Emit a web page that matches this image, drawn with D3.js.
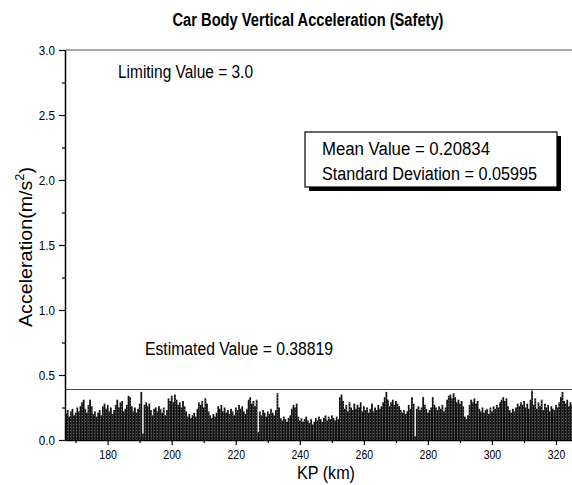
<!DOCTYPE html>
<html>
<head>
<meta charset="utf-8">
<script src="https://cdn.jsdelivr.net/npm/d3@7/dist/d3.min.js"></script>
<style>
  html, body { margin: 0; padding: 0; background: #fff; }
  svg { display: block; font-family: "Liberation Sans", Arial, sans-serif; }
</style>
</head>
<body>
<svg id="chart" width="572" height="485"></svg>
<script>
// ---- data ----
const titleText = "Car Body Vertical Acceleration (Safety)";
const kpStart = 167, kpStep = 0.5;
const acceleration = [
  0.20, 0.23, 0.18, 0.22, 0.24, 0.19, 0.21, 0.25, 0.22, 0.26,
  0.29, 0.31, 0.24, 0.21, 0.27, 0.31, 0.26, 0.20, 0.22, 0.18,
  0.21, 0.23, 0.19, 0.26, 0.28, 0.24, 0.27, 0.22, 0.25, 0.20,
  0.23, 0.27, 0.31, 0.25, 0.29, 0.30, 0.22, 0.24, 0.27, 0.34,
  0.33, 0.26, 0.22, 0.25, 0.21, 0.24, 0.28, 0.37, 0.05, 0.27,
  0.29, 0.26, 0.28, 0.23, 0.19, 0.24, 0.25, 0.22, 0.26, 0.24,
  0.21, 0.25, 0.19, 0.23, 0.32, 0.30, 0.34, 0.29, 0.35, 0.31,
  0.27, 0.29, 0.25, 0.30, 0.26, 0.22, 0.18, 0.20, 0.17, 0.19,
  0.21, 0.18, 0.24, 0.29, 0.27, 0.30, 0.25, 0.32, 0.28, 0.22,
  0.19, 0.17, 0.20, 0.18, 0.21, 0.26, 0.24, 0.27, 0.22, 0.25,
  0.21, 0.23, 0.20, 0.24, 0.22, 0.19, 0.25, 0.23, 0.27, 0.24,
  0.26, 0.22, 0.20, 0.24, 0.31, 0.33, 0.28, 0.30, 0.26, 0.31,
  0.06, 0.22, 0.19, 0.23, 0.21, 0.18, 0.22, 0.20, 0.24, 0.21,
  0.19, 0.23, 0.36, 0.25, 0.17, 0.15, 0.18, 0.16, 0.14, 0.17,
  0.19, 0.24, 0.27, 0.25, 0.28, 0.18, 0.15, 0.17, 0.14, 0.16,
  0.18, 0.15, 0.13, 0.16, 0.12, 0.14, 0.17, 0.15, 0.18, 0.16,
  0.14, 0.17, 0.19, 0.15, 0.18, 0.16, 0.19, 0.17, 0.15, 0.18,
  0.16, 0.33, 0.35, 0.30, 0.24, 0.27, 0.22, 0.29, 0.25, 0.23,
  0.28, 0.24, 0.27, 0.25, 0.29, 0.22, 0.26, 0.23, 0.25, 0.21,
  0.24, 0.28, 0.22, 0.25, 0.23, 0.27, 0.24, 0.26, 0.29, 0.33,
  0.37, 0.31, 0.26, 0.29, 0.31, 0.27, 0.30, 0.28, 0.26, 0.23,
  0.21, 0.23, 0.20, 0.22, 0.27, 0.24, 0.33, 0.28, 0.03, 0.24,
  0.26, 0.23, 0.25, 0.33, 0.27, 0.24, 0.21, 0.23, 0.25, 0.33,
  0.27, 0.25, 0.23, 0.26, 0.24, 0.27, 0.22, 0.25, 0.31, 0.34,
  0.35, 0.32, 0.36, 0.33, 0.29, 0.31, 0.28, 0.30, 0.26, 0.18,
  0.16, 0.19, 0.27, 0.31, 0.29, 0.32, 0.28, 0.30, 0.24, 0.22,
  0.25, 0.21, 0.23, 0.24, 0.20, 0.25, 0.22, 0.26, 0.24, 0.27,
  0.25, 0.29, 0.31, 0.33, 0.30, 0.32, 0.26, 0.23, 0.21, 0.24,
  0.22, 0.25, 0.28, 0.26, 0.29, 0.27, 0.30, 0.25, 0.28, 0.24,
  0.31, 0.38, 0.27, 0.32, 0.24, 0.29, 0.26, 0.31, 0.23, 0.28,
  0.25, 0.27, 0.22, 0.26, 0.24, 0.23, 0.27, 0.25, 0.29, 0.33,
  0.37, 0.30, 0.28, 0.31, 0.26, 0.29, 0.27
];
const yTicks = [0.0, 0.5, 1.0, 1.5, 2.0, 2.5, 3.0];
const yMinorTicks = [0.25, 0.75, 1.25, 1.75, 2.25, 2.75];
const xTicks = [180, 200, 220, 240, 260, 280, 300, 320];
const xMinorTicks = [170, 190, 210, 230, 250, 270, 290, 310];
const limitingValue = 3.0;
const estimatedValue = 0.38819;
const meanValue = 0.20834;
const stdDeviation = 0.05995;

// ---- layout ----
const svg = d3.select("#chart");
const x = d3.scaleLinear().domain([166.7, 325]).range([65, 572]);
const y = d3.scaleLinear().domain([0, 3]).range([440, 50]);

function narrow(sel, f) {
  sel.each(function () {
    const len = this.getComputedTextLength();
    d3.select(this).attr("textLength", len * f).attr("lengthAdjust", "spacingAndGlyphs");
  });
}

// halftone pattern for bars
const defs = svg.append("defs");
const pat = defs.append("pattern").attr("id", "tone")
  .attr("width", 3).attr("height", 3).attr("patternUnits", "userSpaceOnUse");
pat.append("rect").attr("width", 3).attr("height", 3).attr("fill", "#141414");
pat.append("rect").attr("x", 1).attr("y", 1).attr("width", 1).attr("height", 1).attr("fill", "#5e5e5e");

const data = acceleration.map((v, i) => ({ kp: kpStart + i * kpStep, v }));

// bars
svg.append("g").selectAll("rect").data(data).join("rect")
  .attr("x", d => x(d.kp - kpStep / 2))
  .attr("width", d => x(d.kp + kpStep / 2) - x(d.kp - kpStep / 2) + 0.2)
  .attr("y", d => y(d.v))
  .attr("height", d => y(0) - y(d.v))
  .attr("fill", "url(#tone)");

// reference lines
svg.append("line")
  .attr("x1", x(166.7)).attr("x2", x(325))
  .attr("y1", y(limitingValue)).attr("y2", y(limitingValue))
  .attr("stroke", "#555").attr("stroke-width", 1);
svg.append("line")
  .attr("x1", x(166.7)).attr("x2", x(325))
  .attr("y1", y(estimatedValue)).attr("y2", y(estimatedValue))
  .attr("stroke", "#444").attr("stroke-width", 1);

// axes
const yAxis = svg.append("g").attr("transform", `translate(${x(166.7)},0)`)
  .call(d3.axisLeft(y).tickValues(yTicks).tickFormat(d3.format(".1f")).tickSize(6).tickSizeOuter(0));
svg.append("g").attr("transform", `translate(${x(166.7)},0)`)
  .call(d3.axisLeft(y).tickValues(yMinorTicks).tickFormat("").tickSize(3).tickSizeOuter(0))
  .select(".domain").remove();
const xAxis = svg.append("g").attr("transform", `translate(0,${y(0)})`)
  .call(d3.axisBottom(x).tickValues(xTicks).tickFormat(d3.format("d")).tickSize(5).tickSizeOuter(0));
svg.append("g").attr("transform", `translate(0,${y(0)})`)
  .call(d3.axisBottom(x).tickValues(xMinorTicks).tickFormat("").tickSize(3).tickSizeOuter(0))
  .select(".domain").remove();

svg.selectAll(".domain").attr("stroke", "#000").attr("stroke-width", 1.5);
svg.selectAll(".tick line").attr("stroke", "#000").attr("stroke-width", 1.2);
yAxis.selectAll("text").attr("font-size", 13).attr("fill", "#000")
  .attr("font-family", "Liberation Sans, Arial, sans-serif").attr("dx", "-1");
narrow(yAxis.selectAll("text"), 0.9);
xAxis.selectAll("text").attr("font-size", 13.5).attr("fill", "#000")
  .attr("font-family", "Liberation Sans, Arial, sans-serif").attr("dy", "0.85em");
narrow(xAxis.selectAll("text"), 0.78);

// title
svg.append("text").attr("x", 308).attr("y", 26).attr("text-anchor", "middle")
  .attr("font-size", 18).attr("font-weight", "bold").text(titleText)
  .attr("textLength", 271).attr("lengthAdjust", "spacingAndGlyphs");

// annotations
svg.append("text").attr("x", 118).attr("y", 78).attr("font-size", 17.5)
  .text("Limiting Value = " + limitingValue.toFixed(1))
  .attr("textLength", 135).attr("lengthAdjust", "spacingAndGlyphs");
svg.append("text").attr("x", 145).attr("y", 355).attr("font-size", 17.5)
  .text("Estimated Value = " + estimatedValue.toFixed(5))
  .attr("textLength", 188).attr("lengthAdjust", "spacingAndGlyphs");

// legend box with shadow
svg.append("rect").attr("x", 309).attr("y", 136).attr("width", 252).attr("height", 55).attr("fill", "#000");
svg.append("rect").attr("x", 305).attr("y", 132).attr("width", 252).attr("height", 55)
  .attr("fill", "#fff").attr("stroke", "#000").attr("stroke-width", 1.2);
svg.append("text").attr("x", 322).attr("y", 155).attr("font-size", 18)
  .text("Mean Value = " + meanValue.toFixed(5))
  .attr("textLength", 168).attr("lengthAdjust", "spacingAndGlyphs");
svg.append("text").attr("x", 322).attr("y", 180).attr("font-size", 18)
  .text("Standard Deviation = " + stdDeviation.toFixed(5))
  .attr("textLength", 215).attr("lengthAdjust", "spacingAndGlyphs");

// axis titles
const yl = svg.append("text").attr("transform", "translate(32,247) rotate(-90)")
  .attr("text-anchor", "middle").attr("font-size", 18.5)
  .attr("textLength", 160).attr("lengthAdjust", "spacingAndGlyphs");
yl.append("tspan").text("Acceleration(m/s");
yl.append("tspan").attr("font-size", 12).attr("dy", -8).text("2");
yl.append("tspan").attr("dy", 8).text(")");
svg.append("text").attr("x", 326).attr("y", 479).attr("text-anchor", "middle")
  .attr("font-size", 17.5).text("KP (km)")
  .attr("textLength", 58).attr("lengthAdjust", "spacingAndGlyphs");
</script>
</body>
</html>
